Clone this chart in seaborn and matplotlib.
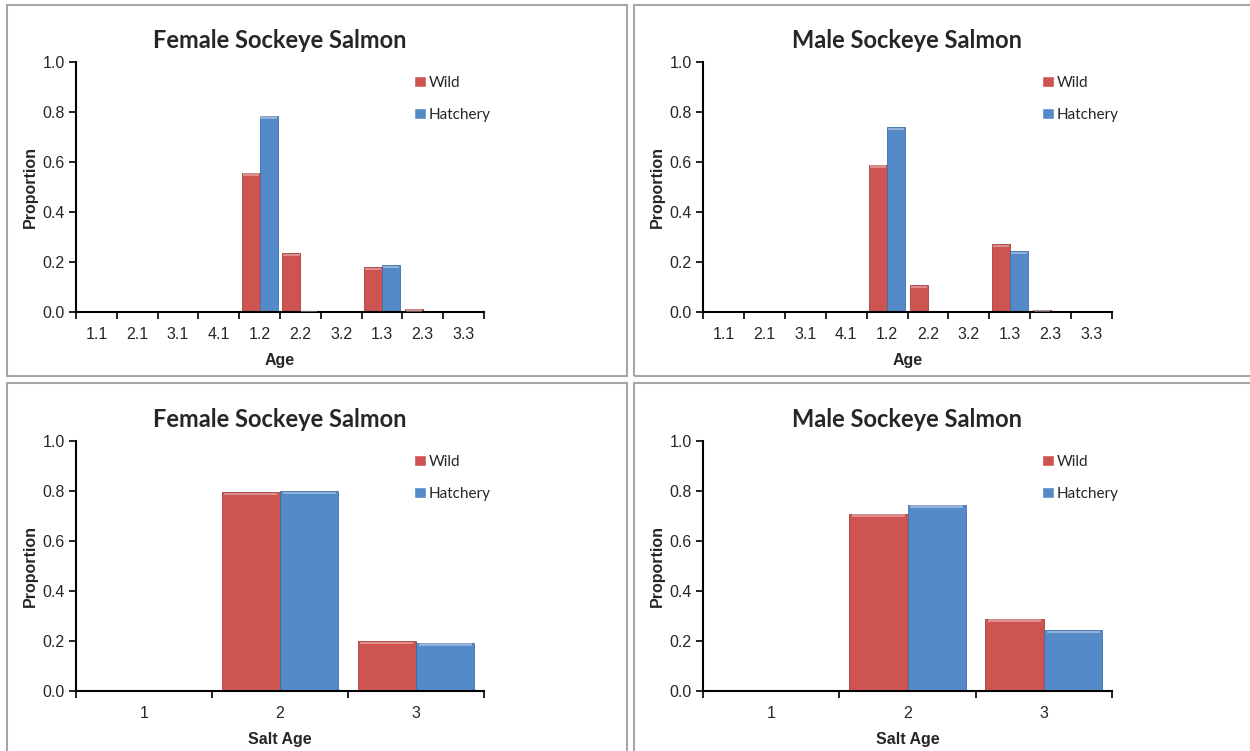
import matplotlib.pyplot as plt
import seaborn as sns
import pandas as pd
from matplotlib.patches import Rectangle

# proportions
age_labels = ['1.1', '2.1', '3.1', '4.1', '1.2', '2.2', '3.2', '1.3', '2.3', '3.3']
female_age_wild = [0.0, 0.0, 0.0, 0.0, 0.558, 0.236, 0.0, 0.180, 0.013, 0.0]
female_age_hatchery = [0.0, 0.0, 0.0, 0.0, 0.786, 0.005, 0.0, 0.188, 0.0, 0.0]
male_age_wild = [0.0, 0.0, 0.0, 0.0, 0.590, 0.108, 0.0, 0.272, 0.009, 0.0]
male_age_hatchery = [0.002, 0.0, 0.0, 0.0, 0.740, 0.0, 0.0, 0.243, 0.0, 0.0]

salt_labels = ['1', '2', '3']
female_salt_wild = [0.0, 0.796, 0.199]
female_salt_hatchery = [0.0, 0.800, 0.193]
male_salt_wild = [0.0, 0.709, 0.289]
male_salt_hatchery = [0.004, 0.745, 0.243]

groups = ['Wild', 'Hatchery']
colors = {'Wild': '#CD5451', 'Hatchery': '#558AC9'}
edges = {'Wild': '#A8403D', 'Hatchery': '#3E6EA8'}

sns.set_theme(style='white')
plt.rcParams['font.family'] = ['Liberation Sans', 'DejaVu Sans']

fig = plt.figure(figsize=(12.5, 7.51), dpi=100)
W, H = 1250, 751


def make_df(labels, wild, hatchery, col):
    return pd.DataFrame({
        col: labels * 2,
        'Proportion': wild + hatchery,
        'Origin': ['Wild'] * len(labels) + ['Hatchery'] * len(labels),
    })


def draw_panel(rect, df, col, xlabel, title, width):
    left, top, right, bottom = rect
    ax = fig.add_axes([left / W, 1 - bottom / H, (right - left) / W, (bottom - top) / H])
    cats = list(df[col].unique())
    sns.barplot(data=df, x=col, y='Proportion', hue='Origin', hue_order=groups,
                palette=colors, saturation=1, width=width, gap=0, ax=ax,
                errorbar=None, order=cats)
    # edge + light top strip to mimic the bevelled Excel bars
    for cont, g in zip(ax.containers, groups):
        for bar in cont:
            bar.set_edgecolor(edges[g])
            bar.set_linewidth(0.6)
            h = bar.get_height()
            if h > 0.004:
                ax.add_patch(Rectangle((bar.get_x() + bar.get_width() * 0.05, h - 0.012),
                                       bar.get_width() * 0.9, 0.01,
                                       color='white', alpha=0.35, lw=0, zorder=3))
    n = len(cats)
    ax.set_ylim(0, 1.0)
    ax.set_xlim(-0.5, n - 0.5)
    ax.set_yticks([0, 0.2, 0.4, 0.6, 0.8, 1.0])
    ax.set_yticklabels(['0.0', '0.2', '0.4', '0.6', '0.8', '1.0'])
    ax.set_xticks([i - 0.5 for i in range(n + 1)], minor=False)
    ax.set_xticklabels([''] * (n + 1))
    ax.set_xticks(range(n), minor=True)
    ax.set_xticklabels(cats, minor=True)
    ax.tick_params(axis='x', which='major', length=5, width=1.2, color='black', direction='out', bottom=True)
    ax.tick_params(axis='x', which='minor', length=0, labelsize=11.5, pad=11)
    ax.tick_params(axis='y', length=5, width=1.2, color='black', direction='out', left=True,
                   labelsize=11.5, pad=3)
    for s in ['top', 'right']:
        ax.spines[s].set_visible(False)
    for s in ['left', 'bottom']:
        ax.spines[s].set_color('black')
        ax.spines[s].set_linewidth(1.5)
    ax.set_xlabel(xlabel, fontsize=11.5, fontweight='bold', labelpad=8)
    ax.set_ylabel('Proportion', fontsize=11.5, fontweight='bold', labelpad=3)
    ax.set_title(title, fontsize=17, fontweight='bold', family=['Lato', 'DejaVu Sans'], pad=10)
    ax.legend(loc='upper right', bbox_to_anchor=(1.05, 1.0), frameon=False,
              handlelength=0.75, handleheight=0.75, handletextpad=0.2, labelspacing=1.2,
              prop={'family': ['Lato', 'DejaVu Sans'], 'size': 11})
    return ax


# grey panel frames
for (x0, y0, x1, y1) in [(7, 5, 627, 376), (634, 5, 1256, 376),
                          (7, 383, 627, 760), (634, 383, 1256, 760)]:
    fig.patches.append(Rectangle((x0 / W, 1 - y1 / H), (x1 - x0) / W, (y1 - y0) / H,
                                 transform=fig.transFigure, fill=False,
                                 edgecolor='#A6A6A6', linewidth=1.5))

draw_panel((76, 62, 484, 312), make_df(age_labels, female_age_wild, female_age_hatchery, 'Age'),
           'Age', 'Age', 'Female Sockeye Salmon', 0.88)
draw_panel((703, 62, 1112, 312), make_df(age_labels, male_age_wild, male_age_hatchery, 'Age'),
           'Age', 'Age', 'Male Sockeye Salmon', 0.88)
draw_panel((76, 441, 484, 691), make_df(salt_labels, female_salt_wild, female_salt_hatchery, 'Salt'),
           'Salt', 'Salt Age', 'Female Sockeye Salmon', 0.86)
draw_panel((703, 441, 1112, 691), make_df(salt_labels, male_salt_wild, male_salt_hatchery, 'Salt'),
           'Salt', 'Salt Age', 'Male Sockeye Salmon', 0.86)

fig.savefig('out.png', dpi=100)
